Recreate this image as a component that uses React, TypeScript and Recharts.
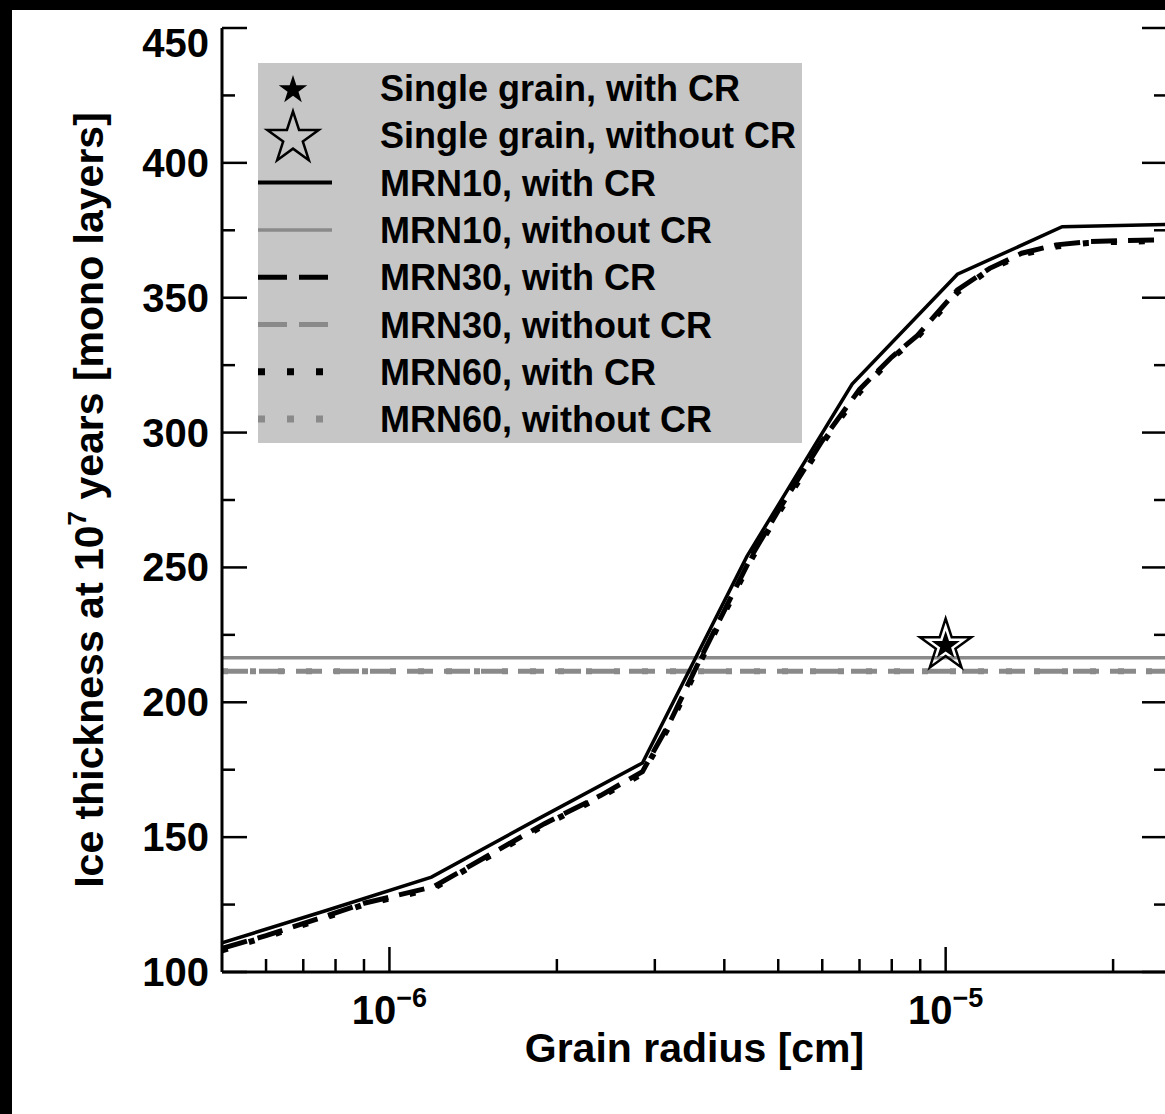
import React from "react";
import { ComposedChart, Line, Scatter, XAxis, YAxis, Legend } from "recharts";

const FONT = '"Liberation Sans", Arial, Helvetica, sans-serif';
const GRAY = "#8a8a8a";

// MRN10 run, grain radius [cm] and ice thickness [mono layers]
const mrn10Radius = [5.0e-7, 7.7e-7, 1.19e-6, 1.84e-6, 2.85e-6, 4.39e-6, 6.79e-6, 1.05e-5, 1.62e-5, 2.5e-5];
const mrn10WithCr = [110.8, 122.8, 135.2, 156.5, 177.5, 254, 318, 358.7, 376.3, 377.2];

// MRN30 / MRN60 runs (finer grids)
const fineRadius = [
  5e-7, 6e-7, 7.5e-7, 9e-7, 1.2e-6, 1.5e-6, 1.9e-6, 2.4e-6, 2.85e-6, 3.2e-6, 3.6e-6, 4e-6, 4.5e-6,
  5e-6, 6e-6, 7e-6, 8e-6, 8.9e-6, 1.05e-5, 1.2e-5, 1.37e-5, 1.58e-5, 1.8e-5, 2.1e-5, 2.5e-5,
];
const mrn30WithCr = [
  108.8, 113.5, 120, 125.5, 131.6, 143, 155, 165.5, 174.3, 193, 215, 234, 255,
  271, 297, 316, 328, 336, 352.9, 360.9, 366.5, 369.6, 370.8, 371.2, 371.5,
];
const mrn60WithCr = [
  108, 113, 119.5, 125, 131, 142.5, 154.5, 165, 173.5, 192, 214, 233, 254,
  270, 296, 315, 327.5, 335.5, 352, 360.5, 366, 369, 370.3, 370.8, 371,
];

// without cosmic rays the thickness does not depend on radius
const flatRadius = [5e-7, 2.5e-5];
const mrn10WithoutCr = [216.5, 216.5];
const mrn30WithoutCr = [211.5, 211.5];
const mrn60WithoutCr = [211.5, 211.5];

// single grain model
const singleRadius = [1e-5];
const singleWithCr = [221];
const singleWithoutCr = [221];

const yTicks = [100, 125, 150, 175, 200, 225, 250, 275, 300, 325, 350, 375, 400, 425, 450];
const yMajor = [100, 150, 200, 250, 300, 350, 400, 450];
const xTicks = [
  6e-7, 7e-7, 8e-7, 9e-7, 1e-6, 2e-6, 3e-6, 4e-6, 5e-6, 6e-6, 7e-6, 8e-6, 9e-6, 1e-5, 2e-5,
];
const xMajor = [1e-6, 1e-5];
const xMajorExp = ["\u22126", "\u22125"];

const legendNames = [
  "Single grain, with CR",
  "Single grain, without CR",
  "MRN10, with CR",
  "MRN10, without CR",
  "MRN30, with CR",
  "MRN30, without CR",
  "MRN60, with CR",
  "MRN60, without CR",
];

const pts = (rs: number[], vs: number[]) => rs.map((r, i) => ({ r, v: vs[i] }));

const DASH = "26 11";
const DOT = "6 22";

const lines = [
  { key: "m10n", data: pts(flatRadius, mrn10WithoutCr), color: GRAY, dash: undefined, w: 3.5 },
  { key: "m30n", data: pts(flatRadius, mrn30WithoutCr), color: GRAY, dash: DASH, w: 5 },
  { key: "m60n", data: pts(flatRadius, mrn60WithoutCr), color: GRAY, dash: DOT, w: 6 },
  { key: "m10c", data: pts(mrn10Radius, mrn10WithCr), color: "#000", dash: undefined, w: 3.5 },
  { key: "m30c", data: pts(fineRadius, mrn30WithCr), color: "#000", dash: DASH, w: 5 },
  { key: "m60c", data: pts(fineRadius, mrn60WithCr), color: "#000", dash: DOT, w: 6 },
];

const starPoints = (cx: number, cy: number, R: number) => {
  const p: string[] = [];
  for (let i = 0; i < 10; i++) {
    const rr = i % 2 === 0 ? R : R * 0.382;
    const a = -Math.PI / 2 + (i * Math.PI) / 5;
    p.push(`${cx + rr * Math.cos(a)},${cy + rr * Math.sin(a)}`);
  }
  return p.join(" ");
};

const FilledStar = (props: any) => (
  <polygon points={starPoints(props.cx, props.cy, 15)} fill="#000" />
);
const HollowStar = (props: any) => (
  <polygon points={starPoints(props.cx, props.cy, 27)} fill="none" stroke="#000" strokeWidth={2.5} />
);

const LeftTick = (props: any) => {
  const { x, y, payload } = props;
  const major = yMajor.includes(payload.value);
  return (
    <g>
      <line x1={x} y1={y} x2={x + (major ? 25 : 13)} y2={y} stroke="#000" strokeWidth={2.5} />
      {major && (
        <text
          x={x - 13}
          y={payload.value === 450 ? y + 29 : y + 14}
          textAnchor="end"
          fontFamily={FONT}
          fontWeight="bold"
          fontSize={40}
          fill="#000"
        >
          {payload.value}
        </text>
      )}
    </g>
  );
};

const RightTick = (props: any) => {
  const { x, y, payload } = props;
  const major = yMajor.includes(payload.value);
  return <line x1={x} y1={y} x2={x - (major ? 25 : 13)} y2={y} stroke="#000" strokeWidth={2.5} />;
};

const BottomTick = (props: any) => {
  const { x, y, payload } = props;
  const idx = xMajor.indexOf(payload.value);
  const major = idx >= 0;
  return (
    <g>
      <line x1={x} y1={y} x2={x} y2={y - (major ? 25 : 13)} stroke="#000" strokeWidth={2.5} />
      {major && (
        <text x={x} y={y + 52} textAnchor="middle" fontFamily={FONT} fontWeight="bold" fontSize={40} fill="#000">
          10
          <tspan dy={-17} fontSize={27}>
            {xMajorExp[idx]}
          </tspan>
        </text>
      )}
    </g>
  );
};

const TopTick = (props: any) => {
  const { x, y, payload } = props;
  const major = xMajor.includes(payload.value);
  return <line x1={x} y1={y} x2={x} y2={y + (major ? 25 : 13)} stroke="#000" strokeWidth={2.5} />;
};

const XTitle = (props: any) => {
  const vb = props.viewBox || { x: 222, y: 972, width: 945, height: 142 };
  return (
    <text
      x={vb.x + vb.width / 2}
      y={vb.y + 90}
      textAnchor="middle"
      fontFamily={FONT}
      fontWeight="bold"
      fontSize={41}
      fill="#000"
    >
      Grain radius [cm]
    </text>
  );
};

const YTitle = (props: any) => {
  const vb = props.viewBox || { x: 122, y: 28, width: 100, height: 944 };
  const x = vb.x - 19;
  const y = vb.y + vb.height / 2;
  return (
    <text
      x={x}
      y={y}
      transform={`rotate(-90 ${x} ${y})`}
      textAnchor="middle"
      fontFamily={FONT}
      fontWeight="bold"
      fontSize={41}
      fill="#000"
    >
      Ice thickness at 10
      <tspan dy={-17} fontSize={26}>
        7
      </tspan>
      <tspan dy={17}> years [mono layers]</tspan>
    </text>
  );
};

const legendSymbols = [
  { kind: "filled" },
  { kind: "hollow" },
  { kind: "line", color: "#000", dash: undefined, w: 4 },
  { kind: "line", color: GRAY, dash: undefined, w: 3.5 },
  { kind: "line", color: "#000", dash: "29 12", w: 5 },
  { kind: "line", color: GRAY, dash: "29 12", w: 5 },
  { kind: "line", color: "#000", dash: "7 22", w: 7 },
  { kind: "line", color: GRAY, dash: "7 22", w: 7 },
];

const LegendBox = () => (
  <svg width={544} height={380} style={{ display: "block" }}>
    <rect x={0} y={0} width={544} height={380} fill="#c6c6c6" />
    {legendNames.map((name, i) => {
      const cy = 25 + i * 47.3;
      const s: any = legendSymbols[i];
      return (
        <g key={name}>
          {s.kind === "filled" && <FilledStar cx={35} cy={cy + 2} />}
          {s.kind === "hollow" && <HollowStar cx={35} cy={cy + 3} />}
          {s.kind === "line" && (
            <line x1={0} y1={cy} x2={74} y2={cy} stroke={s.color} strokeWidth={s.w} strokeDasharray={s.dash} />
          )}
          <text x={122} y={cy + 13} fontFamily={FONT} fontWeight="bold" fontSize={36} fill="#000">
            {name}
          </text>
        </g>
      );
    })}
  </svg>
);

export default function App() {
  return (
    <div
      style={{
        position: "absolute",
        left: 0,
        top: 0,
        width: 1165,
        height: 1114,
        background: "#000",
        overflow: "hidden",
      }}
    >
      <div style={{ position: "absolute", left: 12, top: 10, width: 1200, height: 1110, background: "#fff" }} />
      <div style={{ position: "absolute", left: 0, top: 0 }}>
        <ComposedChart width={1200} height={1114} margin={{ top: 28, right: 0, bottom: 0, left: 122 }}>
          <XAxis
            dataKey="r"
            type="number"
            scale="log"
            domain={[5e-7, 2.5e-5]}
            allowDataOverflow
            ticks={xTicks}
            interval={0}
            height={142}
            tickSize={0}
            tickMargin={0}
            tickLine={false}
            tick={<BottomTick />}
            axisLine={{ stroke: "#000", strokeWidth: 3 }}
            label={<XTitle />}
          />
          <XAxis
            xAxisId="top"
            orientation="top"
            type="number"
            scale="log"
            domain={[5e-7, 2.5e-5]}
            allowDataOverflow
            ticks={xTicks}
            interval={0}
            height={0}
            tickSize={0}
            tickMargin={0}
            tickLine={false}
            tick={<TopTick />}
            axisLine={{ stroke: "#000", strokeWidth: 3 }}
          />
          <YAxis
            type="number"
            domain={[100, 450]}
            allowDataOverflow
            ticks={yTicks}
            interval={0}
            width={100}
            tickSize={0}
            tickMargin={0}
            tickLine={false}
            tick={<LeftTick />}
            axisLine={{ stroke: "#000", strokeWidth: 3 }}
            label={<YTitle />}
          />
          <YAxis
            yAxisId="right"
            orientation="right"
            type="number"
            domain={[100, 450]}
            allowDataOverflow
            ticks={yTicks}
            interval={0}
            width={33}
            tickSize={0}
            tickMargin={0}
            tickLine={false}
            tick={<RightTick />}
            axisLine={{ stroke: "#000", strokeWidth: 3 }}
          />
          {lines.map((l) => (
            <Line
              key={l.key}
              data={l.data}
              dataKey="v"
              type="linear"
              stroke={l.color}
              strokeWidth={l.w}
              strokeDasharray={l.dash}
              dot={false}
              activeDot={false}
              isAnimationActive={false}
            />
          ))}
          <Scatter
            data={pts(singleRadius, singleWithoutCr)}
            dataKey="v"
            shape={<HollowStar />}
            isAnimationActive={false}
          />
          <Scatter
            data={pts(singleRadius, singleWithCr)}
            dataKey="v"
            shape={<FilledStar />}
            isAnimationActive={false}
          />
          <Legend
            layout="horizontal"
            align="center"
            verticalAlign="middle"
            wrapperStyle={{ left: 258, top: 63, width: 544, height: 380, right: "auto", bottom: "auto" }}
            content={<LegendBox />}
          />
        </ComposedChart>
      </div>
    </div>
  );
}
